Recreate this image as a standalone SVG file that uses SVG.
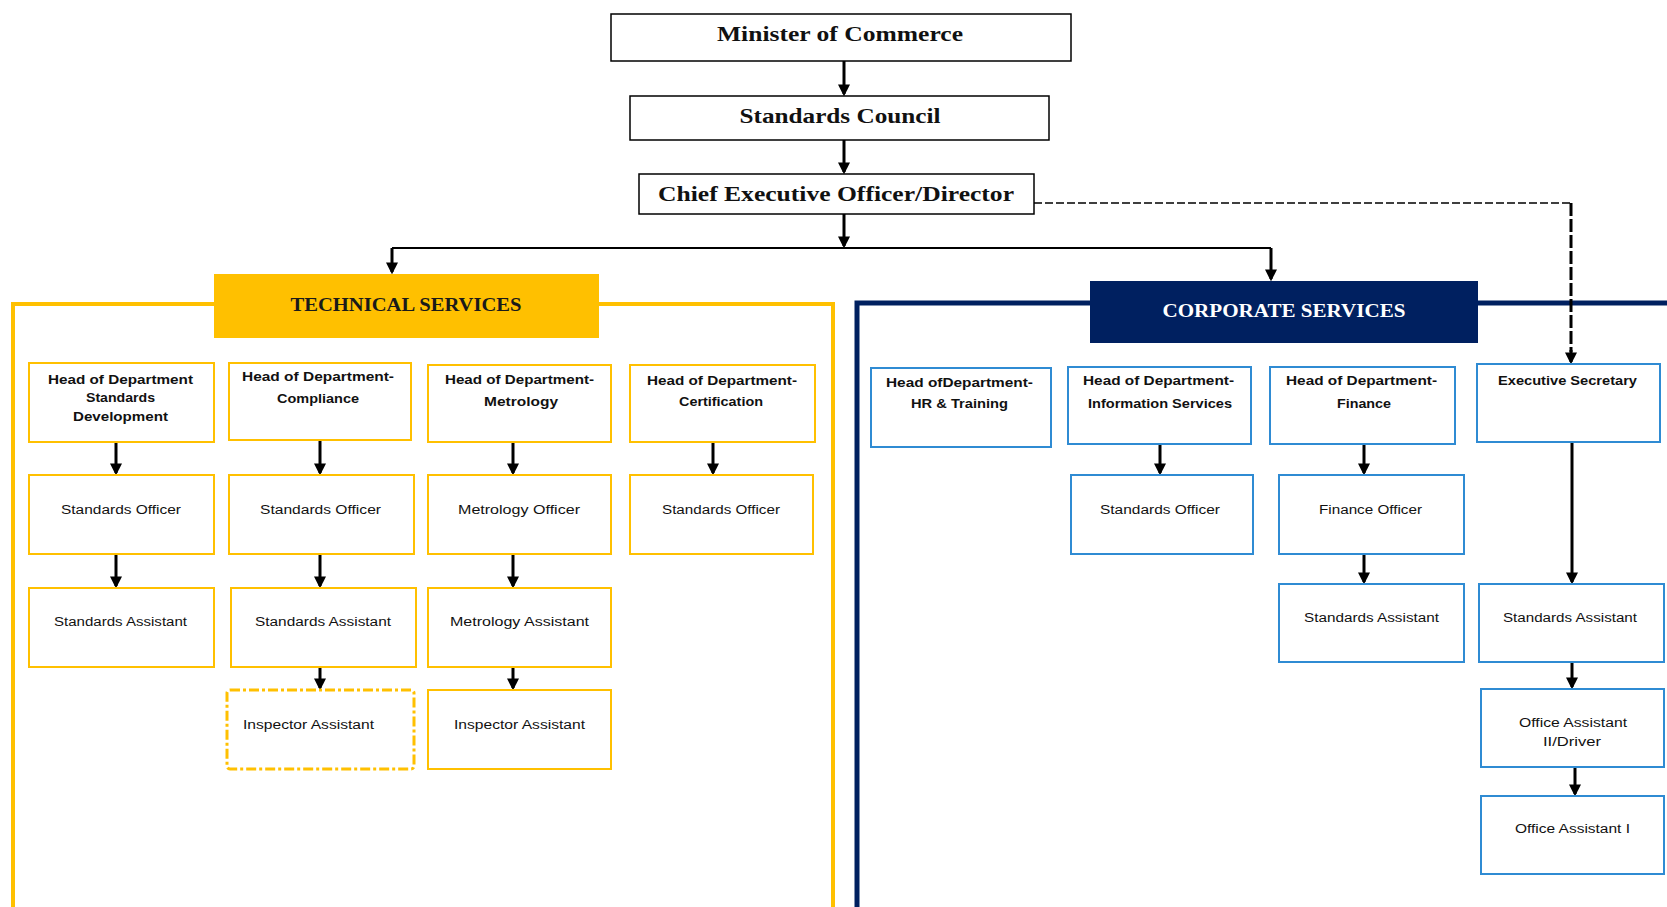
<svg xmlns="http://www.w3.org/2000/svg" width="1667" height="907" viewBox="0 0 1667 907">
<style>
.top{fill:#fff;stroke:#000;stroke-width:1.5}
.ser{font-family:"Liberation Serif","Times New Roman",serif;font-weight:bold;font-size:21px;fill:#111;text-anchor:middle}
.ban{font-family:"Liberation Serif","Times New Roman",serif;font-weight:bold;font-size:18px;text-anchor:middle}
.yb{fill:#fff;stroke:#FFC000;stroke-width:2}
.bb{fill:#fff;stroke:#2F8BD3;stroke-width:2}
.t{font-family:"Liberation Sans",Arial,sans-serif;font-size:12px;fill:#111;text-anchor:middle}
.b{font-weight:bold}
.ar{stroke:#000;stroke-width:3;fill:none;marker-end:url(#ah)}
</style>
<defs>
<marker id="ah" viewBox="0 0 10 10" refX="8" refY="5" markerWidth="12" markerHeight="12" markerUnits="userSpaceOnUse" orient="auto">
<path d="M0,0 L10,5 L0,10 z" fill="#000"/>
</marker>
</defs>
<rect width="1667" height="907" fill="#fff"/>

<g id="frames">
<path d="M13,907 V304 H833 V907" fill="none" stroke="#FFC000" stroke-width="4"/>
<path d="M857,907 V303 H1667" fill="none" stroke="#002060" stroke-width="5"/>
</g>

<g id="connectors">
<line class="ar" x1="844" y1="61" x2="844" y2="94"/>
<line class="ar" x1="844" y1="140" x2="844" y2="172"/>
<line class="ar" x1="844" y1="214" x2="844" y2="246"/>
<path d="M392,248 H1271" stroke="#000" stroke-width="2" fill="none"/>
<path class="ar" d="M392,248 V272"/>
<path class="ar" d="M1271,248 V279"/>
<path d="M1034,203 H1571" stroke="#000" stroke-width="1.5" stroke-dasharray="8 3" fill="none"/>
<path d="M1571,203 V352" stroke="#000" stroke-width="3" stroke-dasharray="13 3" fill="none"/>
<path class="ar" d="M1571,350 V362"/>
<!-- technical -->
<line class="ar" x1="116" y1="442" x2="116" y2="473"/>
<line class="ar" x1="320" y1="440" x2="320" y2="473"/>
<line class="ar" x1="513" y1="442" x2="513" y2="473"/>
<line class="ar" x1="713" y1="442" x2="713" y2="473"/>
<line class="ar" x1="116" y1="554" x2="116" y2="586"/>
<line class="ar" x1="320" y1="554" x2="320" y2="586"/>
<line class="ar" x1="513" y1="554" x2="513" y2="586"/>
<line class="ar" x1="320" y1="667" x2="320" y2="688"/>
<line class="ar" x1="513" y1="667" x2="513" y2="688"/>
<!-- corporate -->
<line class="ar" x1="1160" y1="444" x2="1160" y2="473"/>
<line class="ar" x1="1364" y1="444" x2="1364" y2="473"/>
<line class="ar" x1="1364" y1="554" x2="1364" y2="582"/>
<line class="ar" x1="1572" y1="442" x2="1572" y2="582"/>
<line class="ar" x1="1572" y1="662" x2="1572" y2="687"/>
<line class="ar" x1="1575" y1="767" x2="1575" y2="794"/>
</g>

<g id="minister"><rect class="top" x="611" y="14" width="460" height="47"/><text class="ser" x="840" y="41" textLength="246" lengthAdjust="spacingAndGlyphs">Minister of Commerce</text></g>
<g id="council"><rect class="top" x="630" y="96" width="419" height="44"/><text class="ser" x="840" y="123" textLength="201" lengthAdjust="spacingAndGlyphs">Standards Council</text></g>
<g id="ceo"><rect class="top" x="639" y="174" width="395" height="40"/><text class="ser" x="836" y="201" textLength="356" lengthAdjust="spacingAndGlyphs">Chief Executive Officer/Director</text></g>

<g id="technical-services"><rect x="214" y="274" width="385" height="64" fill="#FFC000"/><text class="ban" x="406" y="311" fill="#1a1a1a" textLength="231" lengthAdjust="spacingAndGlyphs">TECHNICAL SERVICES</text></g>
<g id="corporate-services"><rect x="1090" y="281" width="388" height="62" fill="#002060"/><text class="ban" x="1284" y="317" fill="#fff" textLength="243" lengthAdjust="spacingAndGlyphs">CORPORATE SERVICES</text></g>

<!-- Technical boxes -->
<g id="hod-standards-dev"><rect class="yb" x="29" y="363" width="185" height="79"/>
<text class="t b" x="120.5" y="384" textLength="145" lengthAdjust="spacingAndGlyphs">Head of Department</text>
<text class="t b" x="120.5" y="402" textLength="69" lengthAdjust="spacingAndGlyphs">Standards</text>
<text class="t b" x="120.5" y="421" textLength="95" lengthAdjust="spacingAndGlyphs">Development</text></g>
<g id="hod-compliance"><rect class="yb" x="229" y="363" width="182" height="77"/>
<text class="t b" x="318" y="381" textLength="152" lengthAdjust="spacingAndGlyphs">Head of Department-</text>
<text class="t b" x="318" y="403" textLength="82" lengthAdjust="spacingAndGlyphs">Compliance</text></g>
<g id="hod-metrology"><rect class="yb" x="428" y="365" width="183" height="77"/>
<text class="t b" x="519.5" y="384" textLength="149" lengthAdjust="spacingAndGlyphs">Head of Department-</text>
<text class="t b" x="521" y="406" textLength="74" lengthAdjust="spacingAndGlyphs">Metrology</text></g>
<g id="hod-certification"><rect class="yb" x="630" y="365" width="185" height="77"/>
<text class="t b" x="722" y="385" textLength="150" lengthAdjust="spacingAndGlyphs">Head of Department-</text>
<text class="t b" x="721" y="406" textLength="84" lengthAdjust="spacingAndGlyphs">Certification</text></g>

<g id="std-officer-1"><rect class="yb" x="29" y="475" width="185" height="79"/><text class="t" x="121" y="514" textLength="120" lengthAdjust="spacingAndGlyphs">Standards Officer</text></g>
<g id="std-officer-2"><rect class="yb" x="229" y="475" width="185" height="79"/><text class="t" x="320.5" y="514" textLength="121" lengthAdjust="spacingAndGlyphs">Standards Officer</text></g>
<g id="metrology-officer"><rect class="yb" x="428" y="475" width="183" height="79"/><text class="t" x="519" y="514" textLength="122" lengthAdjust="spacingAndGlyphs">Metrology Officer</text></g>
<g id="std-officer-3"><rect class="yb" x="630" y="475" width="183" height="79"/><text class="t" x="721" y="514" textLength="118" lengthAdjust="spacingAndGlyphs">Standards Officer</text></g>

<g id="std-assistant-1"><rect class="yb" x="29" y="588" width="185" height="79"/><text class="t" x="120.5" y="626" textLength="133" lengthAdjust="spacingAndGlyphs">Standards Assistant</text></g>
<g id="std-assistant-2"><rect class="yb" x="231" y="588" width="185" height="79"/><text class="t" x="323" y="626" textLength="136" lengthAdjust="spacingAndGlyphs">Standards Assistant</text></g>
<g id="metrology-assistant"><rect class="yb" x="428" y="588" width="183" height="79"/><text class="t" x="519.5" y="626" textLength="139" lengthAdjust="spacingAndGlyphs">Metrology Assistant</text></g>

<g id="inspector-assistant-1"><rect x="227" y="690" width="187" height="79" rx="3" fill="#fff" stroke="#FFC000" stroke-width="3" stroke-dasharray="10 3 3 3"/><text class="t" x="308.5" y="729" textLength="131" lengthAdjust="spacingAndGlyphs">Inspector Assistant</text></g>
<g id="inspector-assistant-2"><rect class="yb" x="428" y="690" width="183" height="79"/><text class="t" x="519.5" y="729" textLength="131" lengthAdjust="spacingAndGlyphs">Inspector Assistant</text></g>

<!-- Corporate boxes -->
<g id="hod-hr"><rect class="bb" x="871" y="368" width="180" height="79"/>
<text class="t b" x="959.5" y="387" textLength="147" lengthAdjust="spacingAndGlyphs">Head ofDepartment-</text>
<text class="t b" x="959.5" y="408" textLength="97" lengthAdjust="spacingAndGlyphs">HR &amp; Training</text></g>
<g id="hod-info"><rect class="bb" x="1068" y="367" width="183" height="77"/>
<text class="t b" x="1158.5" y="385" textLength="151" lengthAdjust="spacingAndGlyphs">Head of Department-</text>
<text class="t b" x="1160" y="408" textLength="144" lengthAdjust="spacingAndGlyphs">Information Services</text></g>
<g id="hod-finance"><rect class="bb" x="1270" y="367" width="185" height="77"/>
<text class="t b" x="1361.5" y="385" textLength="151" lengthAdjust="spacingAndGlyphs">Head of Department-</text>
<text class="t b" x="1364" y="408" textLength="54" lengthAdjust="spacingAndGlyphs">Finance</text></g>
<g id="exec-secretary"><rect class="bb" x="1477" y="364" width="183" height="78"/>
<text class="t b" x="1567.5" y="385" textLength="139" lengthAdjust="spacingAndGlyphs">Executive Secretary</text></g>

<g id="std-officer-info"><rect class="bb" x="1071" y="475" width="182" height="79"/><text class="t" x="1160" y="514" textLength="120" lengthAdjust="spacingAndGlyphs">Standards Officer</text></g>
<g id="finance-officer"><rect class="bb" x="1279" y="475" width="185" height="79"/><text class="t" x="1370.5" y="514" textLength="103" lengthAdjust="spacingAndGlyphs">Finance Officer</text></g>
<g id="std-assistant-fin"><rect class="bb" x="1279" y="584" width="185" height="78"/><text class="t" x="1371.5" y="622" textLength="135" lengthAdjust="spacingAndGlyphs">Standards Assistant</text></g>
<g id="std-assistant-es"><rect class="bb" x="1479" y="584" width="185" height="78"/><text class="t" x="1570" y="622" textLength="134" lengthAdjust="spacingAndGlyphs">Standards Assistant</text></g>
<g id="office-assistant-2"><rect class="bb" x="1481" y="689" width="183" height="78"/>
<text class="t" x="1573" y="727" textLength="108" lengthAdjust="spacingAndGlyphs">Office Assistant</text>
<text class="t" x="1572" y="746" textLength="58" lengthAdjust="spacingAndGlyphs">II/Driver</text></g>
<g id="office-assistant-1"><rect class="bb" x="1481" y="796" width="183" height="78"/><text class="t" x="1572.5" y="833" textLength="115" lengthAdjust="spacingAndGlyphs">Office Assistant I</text></g>
</svg>
